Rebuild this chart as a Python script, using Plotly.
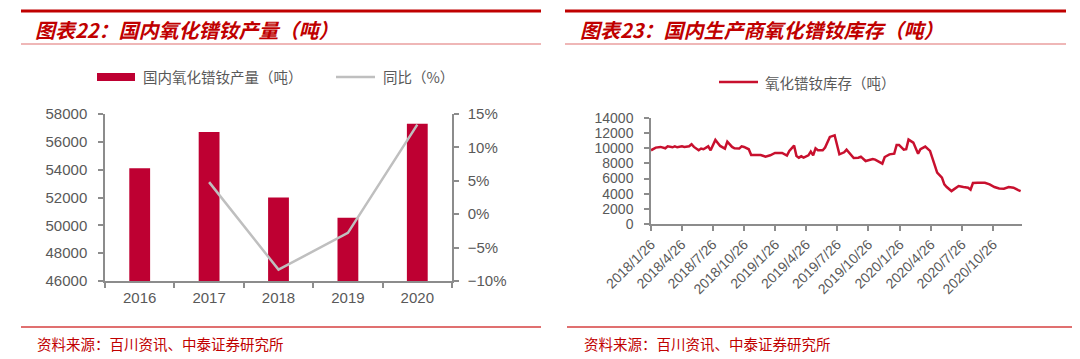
import plotly.graph_objects as go

# ---------------- data ----------------
years = ["2016", "2017", "2018", "2019", "2020"]
production = [54100, 56700, 52000, 50550, 57300]
yoy_pct = [None, 4.8, -8.3, -2.8, 13.4]

inv_dates = [
    "2018-01-26", "2018-02-09", "2018-02-23", "2018-03-09", "2018-03-16", "2018-03-30",
    "2018-04-06", "2018-04-13", "2018-04-27", "2018-05-04", "2018-05-18", "2018-05-25",
    "2018-06-01", "2018-06-15", "2018-06-22", "2018-06-29", "2018-07-13", "2018-07-20",
    "2018-08-03", "2018-08-10", "2018-08-17", "2018-08-31", "2018-09-07", "2018-09-21",
    "2018-09-28", "2018-10-12", "2018-10-19", "2018-10-26", "2018-11-09", "2018-11-16",
    "2018-11-30", "2018-12-14", "2018-12-28", "2019-01-11", "2019-01-25", "2019-02-15",
    "2019-03-01", "2019-03-08", "2019-03-22", "2019-03-29", "2019-04-05", "2019-04-12",
    "2019-04-19", "2019-05-03", "2019-05-10", "2019-05-17", "2019-05-24", "2019-05-31",
    "2019-06-14", "2019-06-21", "2019-07-05", "2019-07-19", "2019-08-02", "2019-08-16",
    "2019-08-23", "2019-09-13", "2019-09-27", "2019-10-04", "2019-10-18", "2019-11-08",
    "2019-11-15", "2019-12-06", "2019-12-13", "2019-12-27", "2020-01-10", "2020-01-17",
    "2020-01-24", "2020-02-07", "2020-02-14", "2020-02-21", "2020-03-06", "2020-03-13",
    "2020-03-20", "2020-03-27", "2020-04-10", "2020-04-24", "2020-05-08", "2020-05-15",
    "2020-05-29", "2020-06-05", "2020-06-12", "2020-06-26", "2020-07-03", "2020-07-17",
    "2020-07-31", "2020-08-14", "2020-08-21", "2020-08-28", "2020-09-11", "2020-10-02",
    "2020-10-16", "2020-10-30", "2020-11-13", "2020-11-27", "2020-12-11", "2020-12-25",
    "2021-01-08", "2021-01-15",
]
inv_values = [
    9735, 10090, 10180, 10000, 10260, 10130,
    10260, 10130, 10260, 10180, 10260, 10530,
    10180, 9735, 9960, 9870, 10260, 9735,
    11100, 10750, 10310, 9960, 10880, 10180,
    10000, 9960, 10260, 10180, 9870, 9120,
    9160, 9120, 8900, 9070, 9380, 9380,
    9030, 9650, 10350, 8990, 8760, 8940,
    8760, 9070, 9560, 9070, 10000, 9735,
    9735, 10090, 11500, 11720, 9200, 9470,
    9820, 8720, 8760, 8900, 8320, 8590,
    8500, 7970, 8850, 9200, 9290, 10440,
    10440, 9820, 9870, 11150, 10750, 10090,
    9290, 9870, 10220, 9650, 7660, 6780,
    6120, 5230, 4880, 4350, 4570, 5010,
    4880, 4790, 4530, 5410, 5450, 5450,
    5230, 4880, 4700, 4660, 4880, 4790,
    4480, 4350,
]

date_tick_vals = [
    "2018-01-26", "2018-04-26", "2018-07-26", "2018-10-26",
    "2019-01-26", "2019-04-26", "2019-07-26", "2019-10-26",
    "2020-01-26", "2020-04-26", "2020-07-26", "2020-10-26",
]
date_tick_text = [
    "2018/1/26", "2018/4/26", "2018/7/26", "2018/10/26",
    "2019/1/26", "2019/4/26", "2019/7/26", "2019/10/26",
    "2020/1/26", "2020/4/26", "2020/7/26", "2020/10/26",
]

title_left = "图表22：国内氧化镨钕产量（吨）"
title_right = "图表23：国内生产商氧化镨钕库存（吨）"
legend_bar = "国内氧化镨钕产量（吨）"
legend_yoy = "同比（%）"
legend_inv = "氧化镨钕库存（吨）"
source_text = "资料来源：百川资讯、中泰证券研究所"

# ---------------- styling ----------------
OFF = 8                      # page body margin of the html page
W, H = 1080 - OFF, 359 - OFF
RED = "#C00000"
BAR_RED = "#BE0032"
LINE_RED = "#C8102E"
GREY_LINE = "#BFBFBF"
AXIS = "#8C8C8C"
TICK_TXT = "#595959"
NUM_FONT = "Liberation Sans, Arial, sans-serif"
CJK_FONT = "Noto Sans CJK SC, sans-serif"


def px_x(x):
    return (x - OFF) / W


def px_y(y):
    return 1 - (y - OFF) / H


fig = go.Figure()

fig.add_trace(go.Bar(
    x=years, y=production, marker=dict(color=BAR_RED, line=dict(width=0)),
    xaxis="x", yaxis="y", name=legend_bar, showlegend=False,
))
fig.add_trace(go.Scatter(
    x=years, y=yoy_pct, mode="lines", line=dict(color=GREY_LINE, width=2.5),
    xaxis="x", yaxis="y2", name=legend_yoy, showlegend=False,
))
fig.add_trace(go.Scatter(
    x=inv_dates, y=inv_values, mode="lines", line=dict(color=LINE_RED, width=2.5),
    xaxis="x2", yaxis="y3", name=legend_inv, showlegend=False,
))


def axis_style(size=15):
    return dict(
        showgrid=False, zeroline=False, showline=True, linecolor=AXIS, linewidth=1.5,
        ticks="outside", tickcolor=AXIS, ticklen=5, tickwidth=1.5, automargin=False,
        tickfont=dict(family=NUM_FONT, size=size, color=TICK_TXT),
    )


fig.update_layout(
    template="none",
    width=W, height=H,
    margin=dict(l=0, r=0, t=0, b=0, pad=0),
    paper_bgcolor="white", plot_bgcolor="white",
    bargap=0.7,
    showlegend=False,
    xaxis=dict(
        domain=[px_x(105), px_x(452)], anchor="y", type="category",
        tickson="boundaries", ticklabelstandoff=2, **axis_style(15),
    ),
    yaxis=dict(
        domain=[px_y(281), px_y(114)], anchor="x", range=[46000, 58000], dtick=2000,
        tickformat="d", ticklabelstandoff=8, **axis_style(15),
    ),
    yaxis2=dict(
        overlaying="y", side="right", anchor="x", range=[-10, 15], dtick=5,
        ticksuffix="%", ticklabelstandoff=6, **axis_style(15),
    ),
    xaxis2=dict(
        domain=[px_x(651), px_x(1022)], anchor="y3", type="date",
        range=["2018-01-26", "2021-01-19"],
        tickmode="array", tickvals=date_tick_vals, ticktext=date_tick_text,
        tickangle=-45, **axis_style(14),
    ),
    yaxis3=dict(
        domain=[px_y(224), px_y(118)], anchor="x2", range=[0, 14000], dtick=2000,
        tickformat="d", ticklabelstandoff=8, **axis_style(14),
    ),
)

shapes = []
annotations = []

# frame lines for each panel
for (x0, x1, bx0, bx1) in [(21, 541, 21, 541), (565, 1066, 567, 1072)]:
    shapes.append(dict(type="line", xref="paper", yref="paper",
                       x0=px_x(x0), x1=px_x(x1), y0=px_y(11), y1=px_y(11),
                       line=dict(color=RED, width=3)))
    shapes.append(dict(type="line", xref="paper", yref="paper",
                       x0=px_x(x0), x1=px_x(x1), y0=px_y(44), y1=px_y(44),
                       line=dict(color="#E07070", width=1.2)))
    shapes.append(dict(type="line", xref="paper", yref="paper",
                       x0=px_x(bx0), x1=px_x(bx1), y0=px_y(327), y1=px_y(327),
                       line=dict(color="#E07070", width=2)))

# titles
for x, t in [(33, title_left), (578, title_right)]:
    annotations.append(dict(
        xref="paper", yref="paper", x=px_x(x), y=px_y(29), xanchor="left", yanchor="middle",
        text="<b><i>" + t + "</i></b>", showarrow=False,
        font=dict(family=CJK_FONT, size=20, color=RED),
    ))

# source notes
for x in [35, 582]:
    annotations.append(dict(
        xref="paper", yref="paper", x=px_x(x), y=px_y(343), xanchor="left", yanchor="middle",
        text=source_text, showarrow=False,
        font=dict(family=CJK_FONT, size=14.5, color=RED),
    ))

# legends
shapes.append(dict(type="rect", xref="paper", yref="paper",
                   x0=px_x(97), x1=px_x(135), y0=px_y(81), y1=px_y(73),
                   fillcolor=BAR_RED, line=dict(width=0)))
annotations.append(dict(xref="paper", yref="paper", x=px_x(141), y=px_y(77),
                        xanchor="left", yanchor="middle", text=legend_bar, showarrow=False,
                        font=dict(family=CJK_FONT, size=14.5, color=TICK_TXT)))
shapes.append(dict(type="line", xref="paper", yref="paper",
                   x0=px_x(336), x1=px_x(375), y0=px_y(77), y1=px_y(77),
                   line=dict(color=GREY_LINE, width=2.5)))
annotations.append(dict(xref="paper", yref="paper", x=px_x(381), y=px_y(77),
                        xanchor="left", yanchor="middle", text=legend_yoy, showarrow=False,
                        font=dict(family=CJK_FONT, size=14.5, color=TICK_TXT)))
shapes.append(dict(type="line", xref="paper", yref="paper",
                   x0=px_x(719), x1=px_x(758), y0=px_y(82), y1=px_y(82),
                   line=dict(color=LINE_RED, width=2.5)))
annotations.append(dict(xref="paper", yref="paper", x=px_x(763), y=px_y(82),
                        xanchor="left", yanchor="middle", text=legend_inv, showarrow=False,
                        font=dict(family=CJK_FONT, size=14.5, color=TICK_TXT)))

fig.update_layout(shapes=shapes, annotations=annotations)

fig.write_html("out.html")
